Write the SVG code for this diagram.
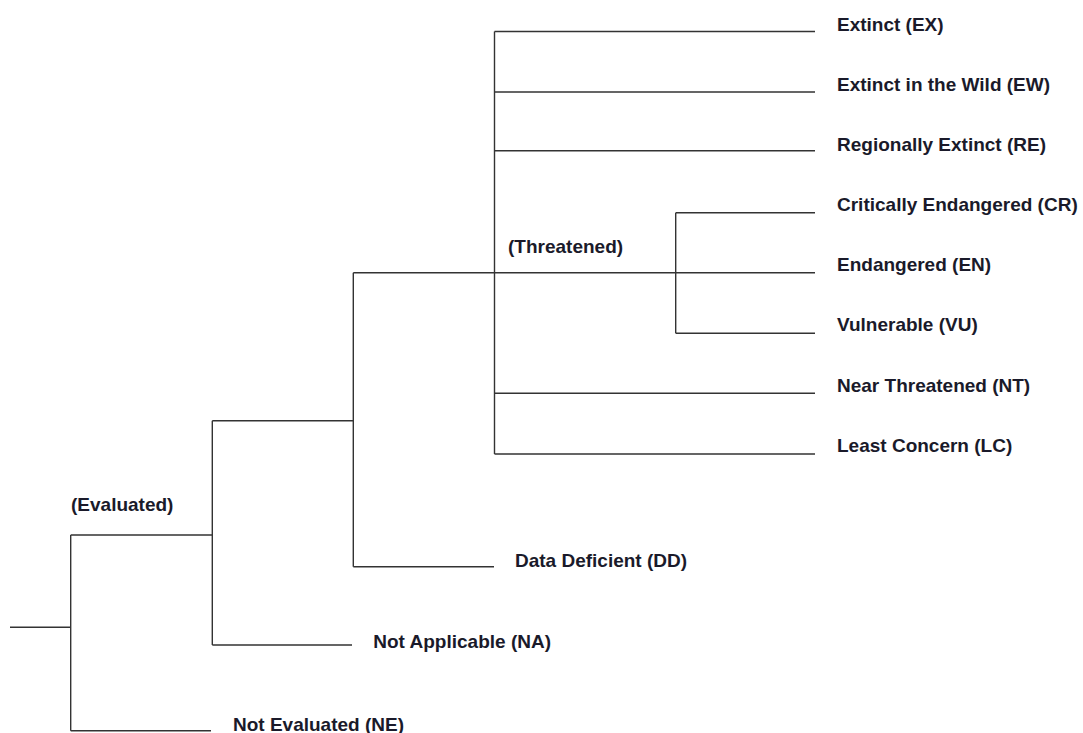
<svg xmlns="http://www.w3.org/2000/svg" width="1083" height="733" viewBox="0 0 1083 733">
<style>
.c{fill:none;stroke:#333;stroke-width:1.4}
.t{font-family:"Liberation Sans",Arial,sans-serif;font-weight:bold;font-size:19px;fill:#1a1a2a}
</style>
<rect width="1083" height="733" fill="#fff"/>
<g id="connectors">
<path class="c" d="M10,627.3H70.7M70.7,535V730.7M70.7,535H212.3M70.7,730.7H211M212.3,420.7V645M212.3,645H352M212.3,420.7H353.3M353.3,272.7V566.7M353.3,566.7H494M353.3,272.7H815M494.5,31.5V454M494.5,31.5H815M494.5,92H815M494.5,150.7H815M494.5,393.3H815M494.5,454H815M675.7,212.7V333.3M675.7,212.7H815M675.7,333.3H815"/>
</g>
<g id="evaluated"><text class="t" x="71" y="511">(Evaluated)</text></g>
<g id="threatened"><text class="t" x="508" y="253.3">(Threatened)</text></g>
<g id="ex"><text class="t" x="837" y="30.7">Extinct (EX)</text></g>
<g id="ew"><text class="t" x="837" y="90.8">Extinct in the Wild (EW)</text></g>
<g id="re"><text class="t" x="837" y="151">Regionally Extinct (RE)</text></g>
<g id="cr"><text class="t" x="837" y="211.1">Critically Endangered (CR)</text></g>
<g id="en"><text class="t" x="837" y="271.3">Endangered (EN)</text></g>
<g id="vu"><text class="t" x="837" y="331.4">Vulnerable (VU)</text></g>
<g id="nt"><text class="t" x="837" y="391.5">Near Threatened (NT)</text></g>
<g id="lc"><text class="t" x="837" y="451.7">Least Concern (LC)</text></g>
<g id="dd"><text class="t" x="515" y="566.7">Data Deficient (DD)</text></g>
<g id="na"><text class="t" x="373.3" y="648">Not Applicable (NA)</text></g>
<g id="ne"><text class="t" x="233" y="731">Not Evaluated (NE)</text></g>
</svg>
